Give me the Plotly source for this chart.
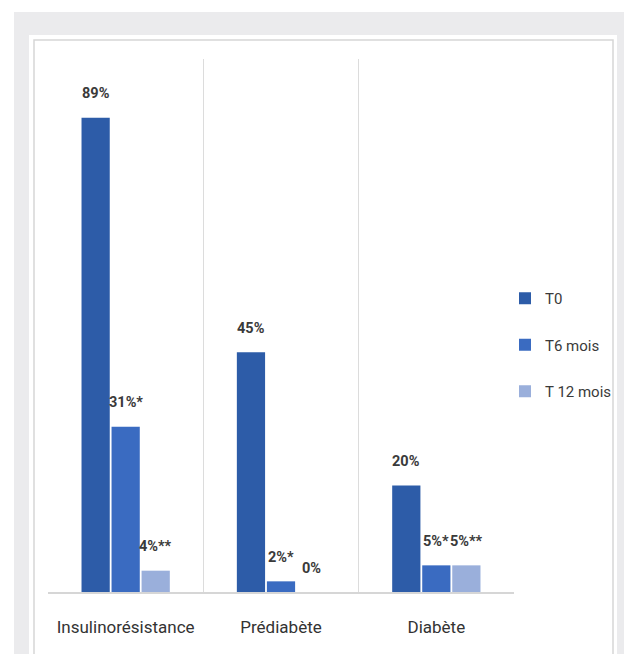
import plotly.graph_objects as go

categories = ["Insulinorésistance", "Prédiabète", "Diabète"]
series_names = ["T0", "T6 mois", "T 12 mois"]
t0_values = [89, 45, 20]
t6_values = [31, 2, 5]
t12_values = [4, 0, 5]
t0_labels = ["89%", "45%", "20%"]
t6_labels = ["31%*", "2%*", "5%*"]
t12_labels = ["4%**", "0%", "5%**"]

colors = ["#2d5ca8", "#3a6bc1", "#9aafdb"]

W, H = 624, 654
L, R, T, B = 48, 110, 59, 62
PW, PH = W - L - R, H - T - B


def px_x(p):
    return (p - L) / PW


def px_y(p):
    return (H - B - p) / PH


FONT = "Roboto, Lato, sans-serif"

fig = go.Figure()
all_vals = [t0_values, t6_values, t12_values]
all_labels = [t0_labels, t6_labels, t12_labels]
for i, (name, vals) in enumerate(zip(series_names, all_vals)):
    fig.add_trace(go.Bar(
        name=name, x=categories, y=vals,
        marker=dict(color=colors[i], line=dict(width=0)),
        legendgroup=name, hoverinfo="skip",
    ))

# data labels
slot = PW / 3 * 0.58 / 3
annotations = []
for i, (vals, labs) in enumerate(zip(all_vals, all_labels)):
    for c, v, lab in zip(categories, vals, labs):
        annotations.append(dict(
            x=c, y=v, xref="x", yref="y", text="<b>" + lab + "</b>",
            showarrow=False, xshift=(i - 1) * slot, yshift=24,
            yanchor="middle", xanchor="center",
            font=dict(family=FONT, size=14.5, color="#3a3a3a"),
        ))

shapes = [
    dict(type="rect", xref="paper", yref="paper", layer="below",
         x0=px_x(14), x1=px_x(W + 5), y0=px_y(H + 5), y1=px_y(12),
         fillcolor="#ebebed", line=dict(width=0)),
    dict(type="rect", xref="paper", yref="paper", layer="below",
         x0=px_x(29), x1=px_x(617), y0=px_y(H + 5), y1=px_y(35),
         fillcolor="#ffffff", line=dict(width=0)),
    dict(type="rect", xref="paper", yref="paper", layer="below",
         x0=px_x(34), x1=px_x(613), y0=px_y(H + 10), y1=px_y(40),
         fillcolor="rgba(0,0,0,0)", line=dict(color="#d6d6d6", width=1.5)),
]

fig.update_layout(
    width=W, height=H,
    margin=dict(l=L, r=R, t=T, b=B, pad=0, autoexpand=False),
    paper_bgcolor="#ffffff", plot_bgcolor="#ffffff",
    barmode="group", bargap=0.42, bargroupgap=0.06,
    showlegend=True,
    legend=dict(
        x=px_x(505), y=px_y(282), xanchor="left", yanchor="top",
        font=dict(family=FONT, size=15, color="#3a3a3a"),
        tracegroupgap=24, bgcolor="rgba(0,0,0,0)",
        itemwidth=30,
    ),
    xaxis=dict(
        tickson="boundaries", showgrid=True, gridcolor="#dcdcdc", gridwidth=1,
        showline=True, linecolor="#d6d6d6", linewidth=1.5,
        ticks="", ticklabelstandoff=19,
        tickangle=0,
        tickfont=dict(family=FONT, size=17, color="#333333"),
        zeroline=False,
    ),
    yaxis=dict(range=[0, 100], visible=False, showgrid=False, zeroline=False),
    annotations=annotations,
    shapes=shapes,
    font=dict(family=FONT),
)

fig.write_html("out.html")
